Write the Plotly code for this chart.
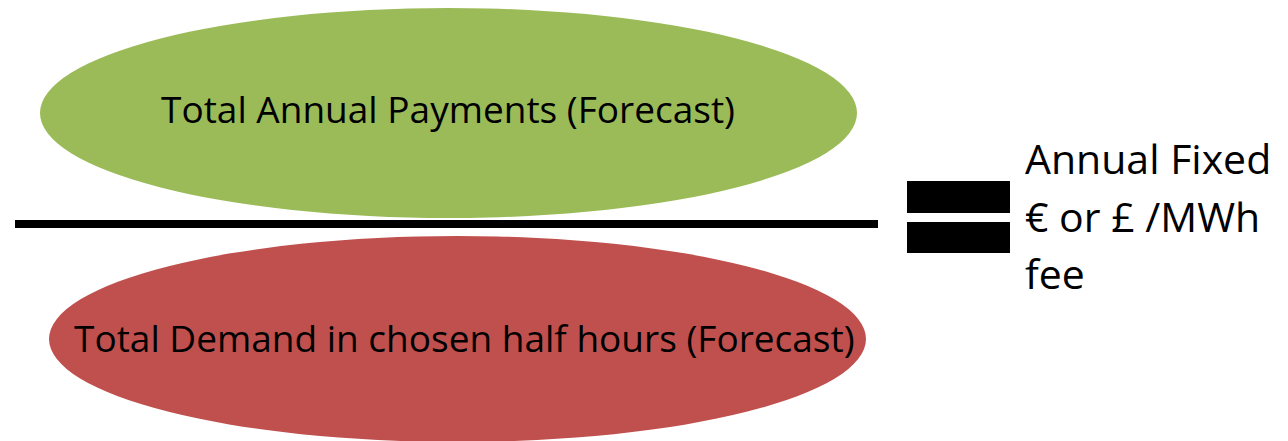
import plotly.graph_objects as go

# Diagram content
numerator_label = "Total Annual Payments (Forecast)"
denominator_label = "Total Demand in chosen half hours (Forecast)"
result_lines = ["Annual Fixed", "€ or £ /MWh", "fee"]
colors = {"numerator": "#9BBB59", "denominator": "#C0504D", "ink": "#000000"}

# page is offset by the browser's default 8px body margin
OFF = 8
W, H = 1288, 441
fig = go.Figure()

num_box = dict(x0=40, x1=857, y0=8, y1=218)
den_box = dict(x0=49, x1=866, y0=236, y1=442)

fig.add_shape(type="circle", xref="x", yref="y", **num_box,
              fillcolor=colors["numerator"], line=dict(width=0), layer="below")
fig.add_shape(type="circle", xref="x", yref="y", **den_box,
              fillcolor=colors["denominator"], line=dict(width=0), layer="below")
# fraction bar
fig.add_shape(type="rect", xref="x", yref="y", x0=15, x1=878, y0=220, y1=228,
              fillcolor=colors["ink"], line=dict(width=0))
# equals sign
fig.add_shape(type="rect", xref="x", yref="y", x0=907, x1=1010, y0=181, y1=213,
              fillcolor=colors["ink"], line=dict(width=0))
fig.add_shape(type="rect", xref="x", yref="y", x0=907, x1=1010, y0=222, y1=253,
              fillcolor=colors["ink"], line=dict(width=0))

font_family = "Open Sans, Lato, sans-serif"
fig.add_annotation(x=448, y=108, text=numerator_label,
                   showarrow=False, xanchor="center", yanchor="middle",
                   font=dict(family=font_family, size=37, color="#000"))
fig.add_annotation(x=464, y=337, text=denominator_label,
                   showarrow=False, xanchor="center", yanchor="middle",
                   font=dict(family=font_family, size=37, color="#000"))
for i, line in enumerate(result_lines):
    fig.add_annotation(x=1023, y=158 + i * 57.5, text=line, showarrow=False,
                       xanchor="left", yanchor="middle",
                       font=dict(family=font_family, size=41, color="#000"))

fig.update_xaxes(range=[OFF, W], visible=False, fixedrange=True)
fig.update_yaxes(range=[H, OFF], visible=False, fixedrange=True)
fig.update_layout(width=W - OFF, height=H - OFF, margin=dict(l=0, r=0, t=0, b=0),
                  plot_bgcolor="white", paper_bgcolor="white", showlegend=False)

fig.write_html("out.html")
